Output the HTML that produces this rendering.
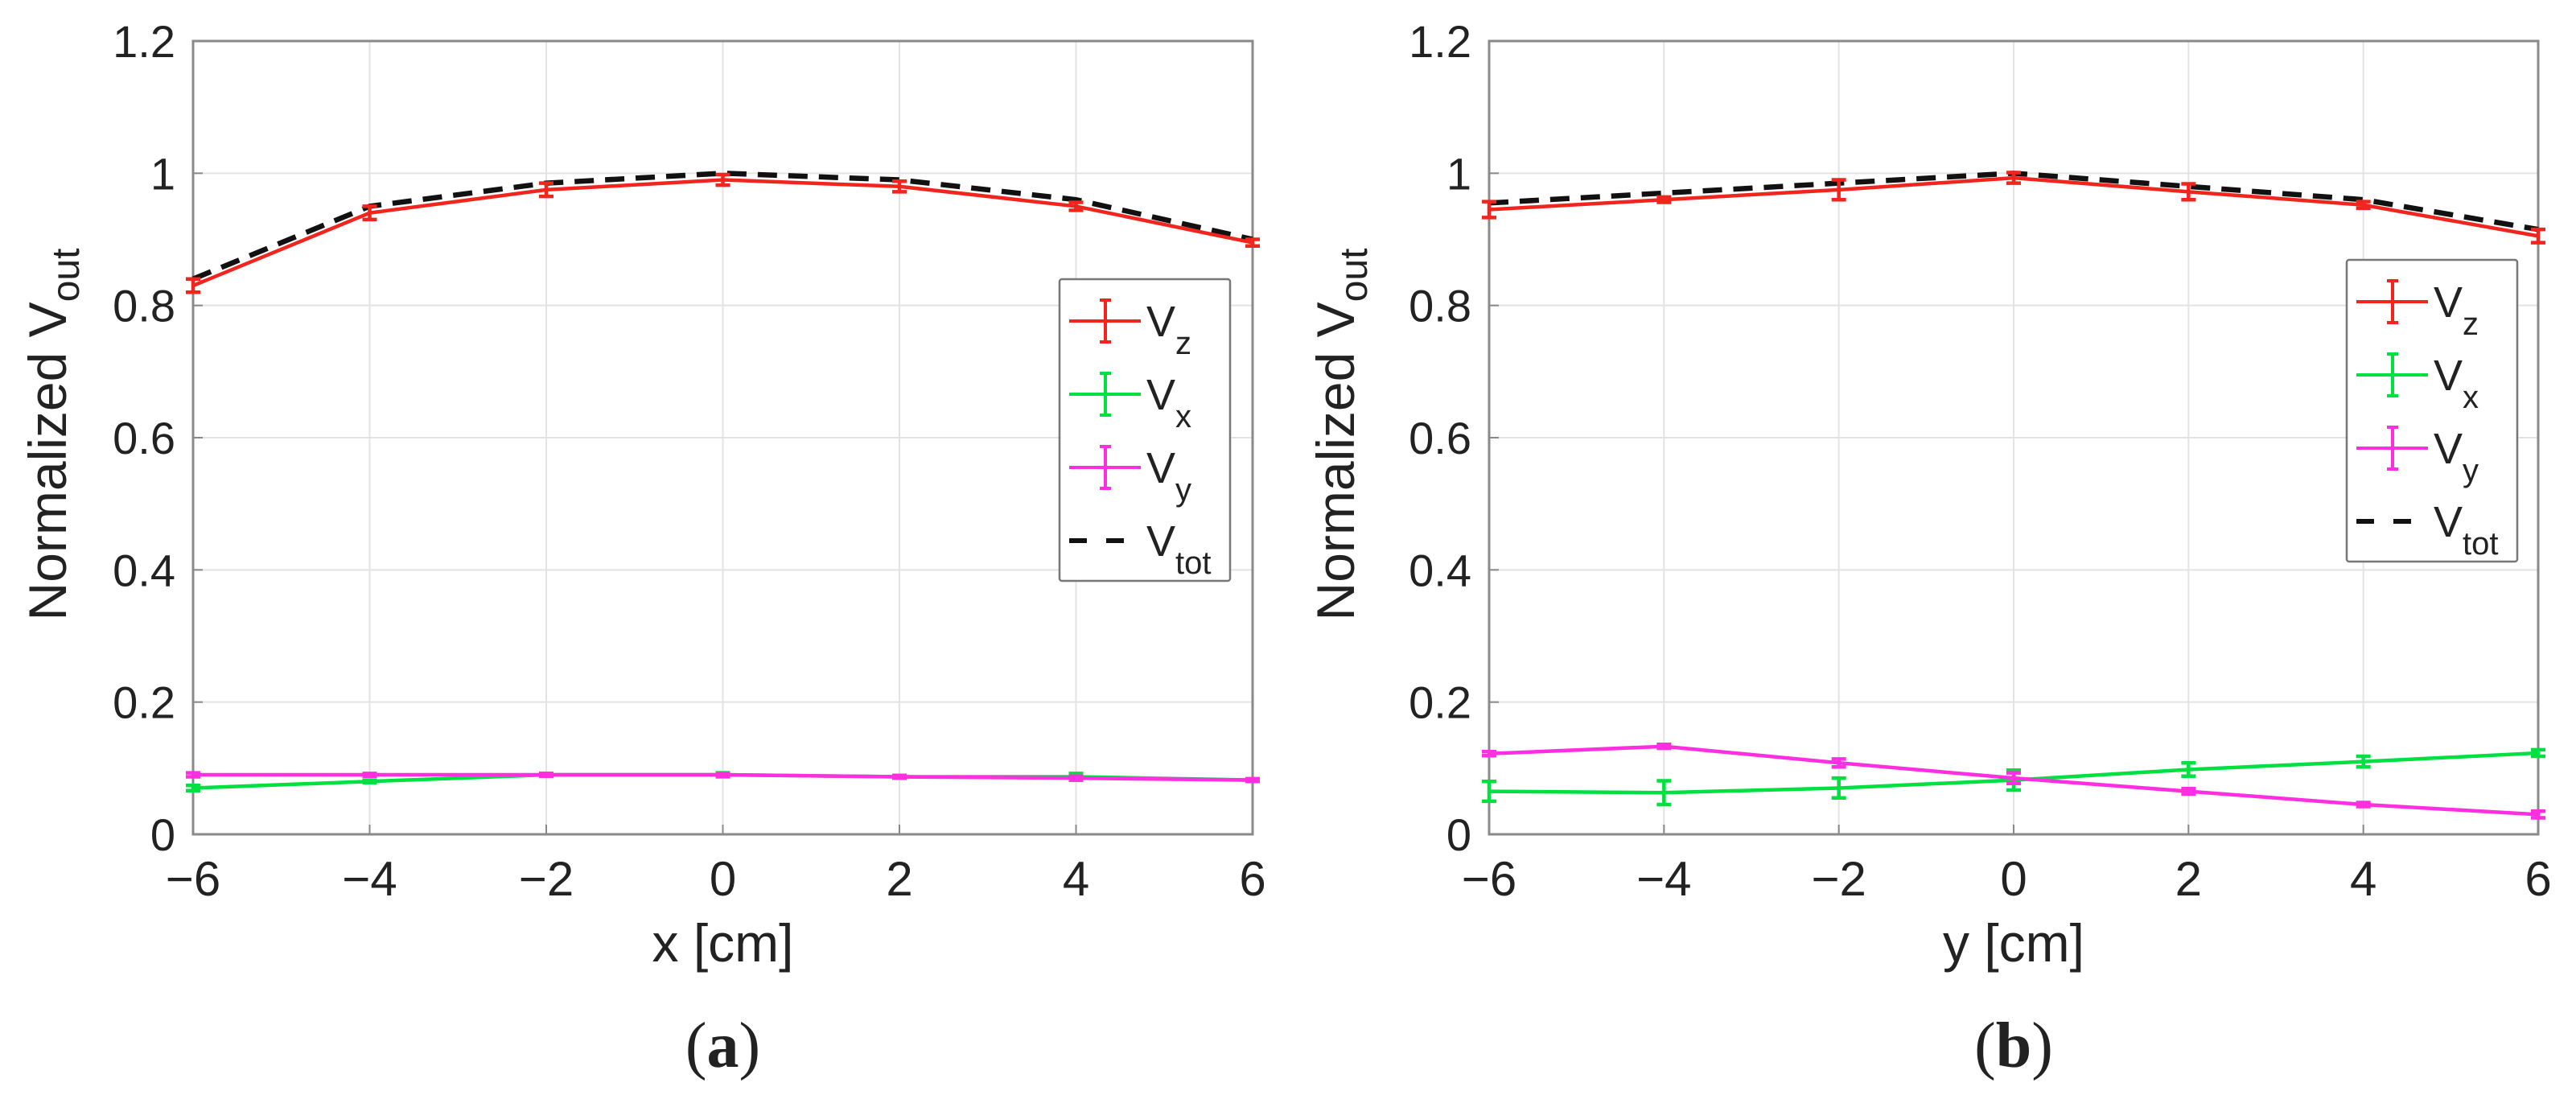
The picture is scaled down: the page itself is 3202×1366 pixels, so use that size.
<!DOCTYPE html>
<html><head><meta charset="utf-8">
<style>
html,body{margin:0;padding:0;background:#fff;}
svg{display:block;}
text{font-family:"Liberation Sans",Arial,sans-serif;fill:#222;}
</style></head>
<body>
<svg id="fig" width="3202" height="1366" viewBox="0 0 3202 1366" xmlns="http://www.w3.org/2000/svg"></svg>
<script>
const xCats = [-6, -4, -2, 0, 2, 4, 6];
const yTicks = [0, 0.2, 0.4, 0.6, 0.8, 1, 1.2];
const yTickLabels = ["0", "0.2", "0.4", "0.6", "0.8", "1", "1.2"];
const xTickLabels = ["\u22126", "\u22124", "\u22122", "0", "2", "4", "6"];

const aVz = [0.83, 0.94, 0.975, 0.99, 0.98, 0.95, 0.895];
const aVzErr = [0.01, 0.01, 0.01, 0.008, 0.008, 0.006, 0.005];
const aVtot = [0.84, 0.95, 0.985, 1.0, 0.99, 0.96, 0.90];
const aVx = [0.07, 0.08, 0.09, 0.09, 0.087, 0.087, 0.082];
const aVxErr = [0.004, 0.002, 0.002, 0.003, 0.002, 0.005, 0.002];
const aVy = [0.09, 0.09, 0.09, 0.09, 0.087, 0.085, 0.082];
const aVyErr = [0.003, 0.002, 0.002, 0.002, 0.002, 0.003, 0.002];

const bVz = [0.945, 0.96, 0.975, 0.993, 0.972, 0.952, 0.905];
const bVzErr = [0.012, 0.004, 0.015, 0.008, 0.012, 0.005, 0.01];
const bVtot = [0.955, 0.97, 0.985, 1.0, 0.98, 0.96, 0.915];
const bVx = [0.065, 0.063, 0.07, 0.082, 0.098, 0.11, 0.123];
const bVxErr = [0.015, 0.018, 0.015, 0.015, 0.01, 0.008, 0.005];
const bVy = [0.122, 0.133, 0.108, 0.085, 0.065, 0.045, 0.03];
const bVyErr = [0.003, 0.003, 0.006, 0.008, 0.004, 0.003, 0.005];

const NS = "http://www.w3.org/2000/svg";
const svg = document.getElementById('fig');
function mk(tag, attrs, parent) {
  const e = document.createElementNS(NS, tag);
  for (const k in attrs) e.setAttribute(k, attrs[k]);
  (parent || svg).appendChild(e);
  return e;
}

function panel(cfg) {
  const g = mk('g', {});
  
  
  const L = cfg.left, R = cfg.right, T = 51, B = 1037;
  const xs = v => L + (v - (-6)) / 12 * (R - L);
  const ys = v => B - v / 1.2 * (B - T);
  yTicks.forEach(t => {
    const l = mk('line', {x1: L, x2: R, y1: ys(t), y2: ys(t), stroke: '#e3e3e3', 'stroke-width': 2}, g);
    
    
  });
  xCats.forEach(t => {
    const l = mk('line', {x1: xs(t), x2: xs(t), y1: T, y2: B, stroke: '#e3e3e3', 'stroke-width': 2}, g);
    
    
  });
  yTicks.forEach((t, i) => {
    mk('line', {x1: L, x2: L + 12, y1: ys(t), y2: ys(t), stroke: '#888', 'stroke-width': 2}, g);
    const tx = mk('text', {x: L - 22, y: ys(t) + 20, 'font-size': 56, 'text-anchor': 'end'}, g);
    tx.textContent = yTickLabels[i];
    
    
  });
  xCats.forEach((t, i) => {
    mk('line', {x1: xs(t), x2: xs(t), y1: B, y2: B - 12, stroke: '#888', 'stroke-width': 2}, g);
    const tx = mk('text', {x: xs(t), y: 1113, 'font-size': 60, 'text-anchor': 'middle'}, g);
    tx.textContent = xTickLabels[i];
    
    
  });
  const box = mk('rect', {x: L, y: T, width: R - L, height: B - T, fill: 'none', stroke: '#8a8a8a', 'stroke-width': 3}, g);
  
  

  function series(vals, errs, color, name, dashed) {
    const sg = mk('g', {}, g);
    
    
    const pts = vals.map((v, i) => xs(xCats[i]) + ',' + ys(v)).join(' ');
    const pl = mk('polyline', {points: pts, fill: 'none', stroke: color, 'stroke-width': dashed ? 6.5 : 4.5,
      'stroke-dasharray': dashed ? '24 14' : 'none'}, sg);
    
    
    if (errs) {
      vals.forEach((v, i) => {
        const x = xs(xCats[i]), y1 = ys(v - errs[i]), y2 = ys(v + errs[i]);
        const eb = mk('path', {d: `M${x},${y1}V${y2}M${x-9},${y1}H${x+9}M${x-9},${y2}H${x+9}`, stroke: color, 'stroke-width': 4.5, fill: 'none'}, sg);
        
        
      });
    }
  }
  series(cfg.vx, cfg.vxErr, '#00e040', 'series-vx', false);
  series(cfg.vy, cfg.vyErr, '#ff2ee0', 'series-vy', false);
  series(cfg.vtot, null, '#111', 'series-vtot', true);
  series(cfg.vz, cfg.vzErr, '#f0261e', 'series-vz', false);

  const xl = mk('text', {x: (L + R) / 2, y: 1195, 'font-size': 66, 'text-anchor': 'middle'}, g);
  xl.textContent = cfg.xlabel;
  
  

  const cx = cfg.ylabelX, cy = 540;
  const yl = mk('text', {x: cx, y: cy, 'font-size': 66, 'text-anchor': 'middle', transform: `rotate(-90 ${cx} ${cy})`}, g);
  
  
  yl.appendChild(document.createTextNode('Normalized V'));
  const ts = mk('tspan', {'font-size': 48, dy: 16}, yl);
  ts.textContent = 'out';

  const cap = mk('text', {x: (L + R) / 2, y: 1326, 'font-size': 80, 'text-anchor': 'middle', style: 'font-family:"Liberation Serif",serif'}, g);
  
  
  cap.appendChild(document.createTextNode('('));
  const bt = mk('tspan', {'font-weight': 'bold'}, cap);
  bt.textContent = cfg.cap;
  cap.appendChild(document.createTextNode(')'));

  const lx = cfg.legX, ly = cfg.legY;
  const lg = mk('g', {}, g);
  
  
  mk('rect', {x: lx, y: ly, width: 212, height: 375, fill: '#fff', stroke: '#777', 'stroke-width': 2.5, rx: 3}, lg);
  const entries = [['#f0261e', 'z', false], ['#00e040', 'x', false], ['#ff2ee0', 'y', false], ['#111', 'tot', true]];
  entries.forEach((en, i) => {
    const ry = ly + 52 + i * 91;
    const eg = mk('g', {}, lg);
    
    
    if (en[2]) {
      mk('line', {x1: lx + 12, x2: lx + 85, y1: ry, y2: ry, stroke: en[0], 'stroke-width': 6, 'stroke-dasharray': '22 24'}, eg);
    } else {
      mk('path', {d: `M${lx+12},${ry}H${lx+101}M${lx+57},${ry-26}V${ry+26}M${lx+50},${ry-26}H${lx+64}M${lx+50},${ry+26}H${lx+64}`, stroke: en[0], 'stroke-width': 4, fill: 'none'}, eg);
    }
    const t = mk('text', {x: lx + 108, y: ry + 19, 'font-size': 54}, eg);
    t.appendChild(document.createTextNode('V'));
    const s = mk('tspan', {'font-size': 40, dy: 22}, t);
    s.textContent = en[1];
  });
}

panel({name: 'panel-a', left: 240, right: 1557, ylabelX: 82, xlabel: 'x [cm]', cap: 'a',
  legX: 1317, legY: 347,
  vz: aVz, vzErr: aVzErr, vtot: aVtot, vx: aVx, vxErr: aVxErr, vy: aVy, vyErr: aVyErr});
panel({name: 'panel-b', left: 1851, right: 3155, ylabelX: 1683, xlabel: 'y [cm]', cap: 'b',
  legX: 2917, legY: 323,
  vz: bVz, vzErr: bVzErr, vtot: bVtot, vx: bVx, vxErr: bVxErr, vy: bVy, vyErr: bVyErr});
</script>
</body></html>
